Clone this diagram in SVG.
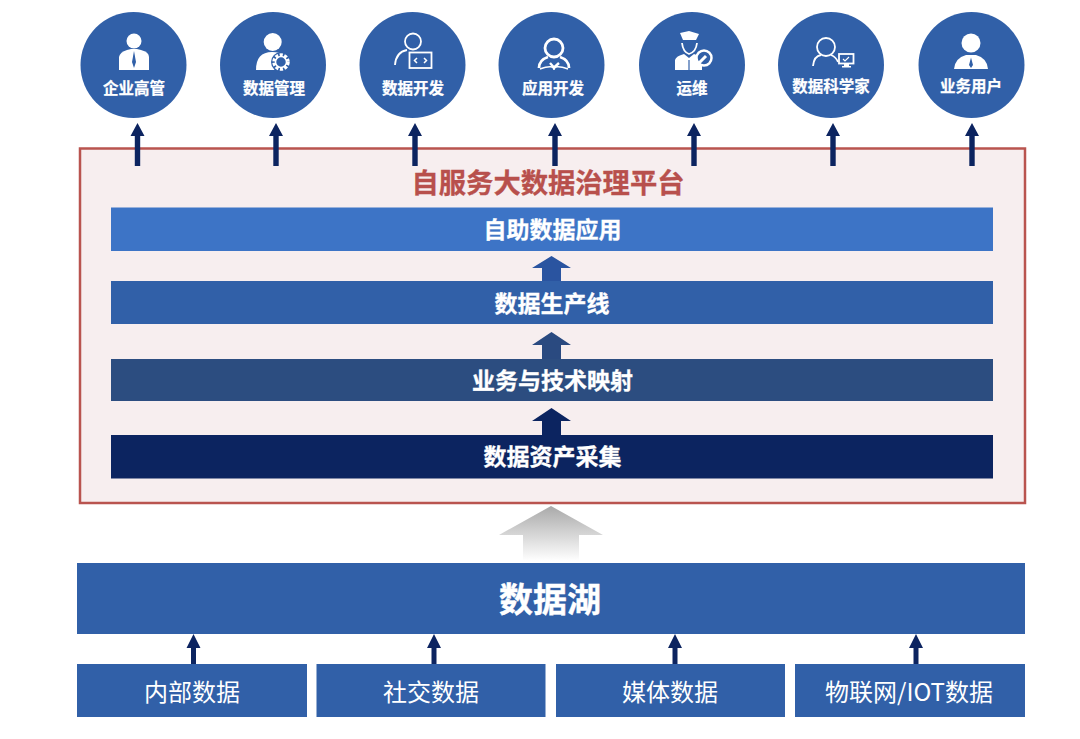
<svg xmlns="http://www.w3.org/2000/svg" width="1080" height="739" viewBox="0 0 1080 739">
<style>
text{font-family:"Liberation Sans","Noto Sans CJK SC",sans-serif;text-anchor:middle;fill:#fff}
.cjk{font-family:"Noto Sans CJK SC",sans-serif}
.c{fill:#3160a8}
.cl{font-size:15.500px;font-weight:700;stroke:#fff;stroke-width:.25}
.bl{font-size:23px;font-weight:700;stroke:#fff;stroke-width:.3}
.sl{font-size:24px;font-weight:400}
.i{fill:#fff}
.o{fill:none;stroke:#fff;stroke-width:1.800}
.a{fill:#0c2460}
</style>
<defs>
<linearGradient id="g" x1="0" y1="0" x2="0" y2="1"><stop offset="0" stop-color="#a9a9a9"/><stop offset="1" stop-color="#fff"/></linearGradient>
<path id="up" d="M0 0L7 13H2.700V43H-2.700V13H-7Z"/>
<path id="up2" d="M0 0L7 14H2.500V30H-2.500V14H-7Z"/>
</defs>
<rect width="1080" height="739" fill="#fff"/>

<g id="platform">
<rect x="80" y="148.500" width="945" height="354.500" fill="#f7eeef" stroke="#b9544f" stroke-width="2.500"/>
<text class="cjk" x="548" y="193" style="font-size:27.300px;font-weight:700;fill:#b8504c;stroke:#b8504c;stroke-width:.3">自服务大数据治理平台</text>
</g>

<g id="connectors">
<use href="#up" class="a" x="137.500" y="123"/>
<use href="#up" class="a" x="276" y="123"/>
<use href="#up" class="a" x="415" y="123"/>
<use href="#up" class="a" x="555" y="123"/>
<use href="#up" class="a" x="694" y="123"/>
<use href="#up" class="a" x="833" y="123"/>
<use href="#up" class="a" x="972" y="123"/>
<path d="M551.500 256L571 268H561V281H542V268H532Z" fill="#2a54a0"/>
<path d="M551.500 332L571 345H561V359H542V345H532Z" fill="#2a4a80"/>
<path d="M551.500 408L571 421H561V436H542V421H532Z" fill="#0c2460"/>
<path d="M551 506L603 535H579V561H523V535H499Z" fill="url(#g)"/>
<use href="#up2" class="a" x="193.500" y="634"/>
<use href="#up2" class="a" x="434" y="634"/>
<use href="#up2" class="a" x="675" y="634"/>
<use href="#up2" class="a" x="916" y="634"/>
</g>

<g id="node-exec"><circle class="c" cx="133.500" cy="65" r="53"/>
<circle class="i" cx="134" cy="41" r="7.500"/>
<path class="i" d="M119 70V57Q120 52 127 50L131 49H137L141 50Q149 52 149 57V70Z"/>
<path d="M134 51L136 62L134 68L132 62Z" fill="#3160a8"/>
<text class="cjk cl" x="134" y="94">企业高管</text></g>

<g id="node-mgmt"><circle class="c" cx="273" cy="65" r="53"/>
<circle class="i" cx="272.700" cy="42" r="9"/>
<path class="i" d="M256 70Q256 52 272 52Q280 52 284 55L274 70Z"/>
<circle cx="281" cy="62" r="10" fill="#3160a8"/>
<circle cx="281" cy="62" r="7" fill="none" stroke="#fff" stroke-width="3.500" stroke-dasharray="3 1.500"/>
<circle cx="281" cy="62" r="5.500" fill="none" stroke="#fff" stroke-width="1.500"/>
<text class="cjk cl" x="274" y="94">数据管理</text></g>

<g id="node-dev"><circle class="c" cx="412.500" cy="65" r="53"/>
<circle class="o" cx="413" cy="41.500" r="8"/>
<path class="o" d="M395 65Q396 52 407 50"/>
<rect class="o" x="409.500" y="52.500" width="22" height="15.500"/>
<path d="M417 58L414.500 60.500L417 63M424 58L426.500 60.500L424 63" fill="none" stroke="#fff" stroke-width="1.500"/>
<text class="cjk cl" x="413" y="94">数据开发</text></g>

<g id="node-app"><circle class="c" cx="551.500" cy="65" r="53"/>
<circle cx="554" cy="48" r="9" fill="none" stroke="#fff" stroke-width="2.800"/>
<path d="M548 57Q539 60 539 68M560 57Q569 60 569 68" fill="none" stroke="#fff" stroke-width="2.800"/>
<path d="M540 69Q554 64 554 70Q554 64 568 69" fill="none" stroke="#fff" stroke-width="1.500"/>
<path d="M550 63L554 67.500L559 63" fill="none" stroke="#fff" stroke-width="2.400"/>
<text class="cjk cl" x="553" y="94">应用开发</text></g>

<g id="node-ops"><circle class="c" cx="692" cy="65" r="53"/>
<path class="i" d="M680 33L689 31L699 34L696 40H683Z"/>
<path class="o" d="M682 43Q683 52 689 54Q696 52 697 43" stroke-width="2"/>
<path class="i" d="M675 70V60Q676 56 684 54L689 58L694 54Q701 56 702 60V70Z"/>
<path d="M689 60V70" stroke="#3160a8" stroke-width="1.200"/>
<circle cx="704" cy="58" r="7.500" fill="#3160a8" stroke="#fff" stroke-width="2.500"/>
<path d="M699 63L706 56" stroke="#fff" stroke-width="3"/>
<text class="cjk cl" x="692" y="94">运维</text></g>

<g id="node-ds"><circle class="c" cx="831" cy="65" r="53"/>
<circle class="o" cx="826" cy="47" r="9"/>
<path class="o" d="M813 66Q814 56 821 55M831 55Q836 57 838 62"/>
<rect class="o" x="839" y="54" width="14.500" height="9.500"/>
<path d="M843 59L845 61L849 57" fill="none" stroke="#fff" stroke-width="1.100"/>
<path class="i" d="M844 64H849V66H851V67.500H842V66H844Z"/>
<text class="cjk cl" x="831" y="92">数据科学家</text></g>

<g id="node-user"><circle class="c" cx="971.500" cy="65" r="53"/>
<circle class="i" cx="971" cy="43" r="9.500"/>
<path class="i" d="M954 69Q955 58 966 55H976Q987 58 988 69Z"/>
<path d="M971 57.500L973 65L971 68L969 65Z" fill="#3160a8"/>
<text class="cjk cl" x="971" y="92">业务用户</text></g>

<g id="layer-app"><rect x="111" y="207.500" width="882" height="43.500" fill="#3d74c6"/>
<text class="cjk bl" x="552.500" y="238">自助数据应用</text></g>
<g id="layer-line"><rect x="111" y="281" width="882" height="43" fill="#3160a8"/>
<text class="cjk bl" x="552" y="311.500">数据生产线</text></g>
<g id="layer-map"><rect x="111" y="359" width="882" height="42" fill="#2c4d80"/>
<text class="cjk bl" x="552.500" y="389">业务与技术映射</text></g>
<g id="layer-collect"><rect x="111" y="435" width="882" height="43.500" fill="#0c2460"/>
<text class="cjk bl" x="552.500" y="465">数据资产采集</text></g>

<g id="lake"><rect x="77" y="563" width="948" height="71" fill="#3160a8"/>
<text class="cjk" x="550" y="612" style="font-size:34px;font-weight:700;stroke:#fff;stroke-width:.4">数据湖</text></g>

<g id="src-internal"><rect x="77" y="664" width="230" height="53" fill="#3160a8"/>
<text class="cjk sl" x="192" y="701">内部数据</text></g>
<g id="src-social"><rect x="316.500" y="664" width="229" height="53" fill="#3160a8"/>
<text class="cjk sl" x="431" y="701">社交数据</text></g>
<g id="src-media"><rect x="556" y="664" width="229" height="53" fill="#3160a8"/>
<text class="cjk sl" x="670" y="701">媒体数据</text></g>
<g id="src-iot"><rect x="795" y="664" width="230" height="53" fill="#3160a8"/>
<text class="cjk sl" x="909" y="701">物联网/IOT数据</text></g>
</svg>
